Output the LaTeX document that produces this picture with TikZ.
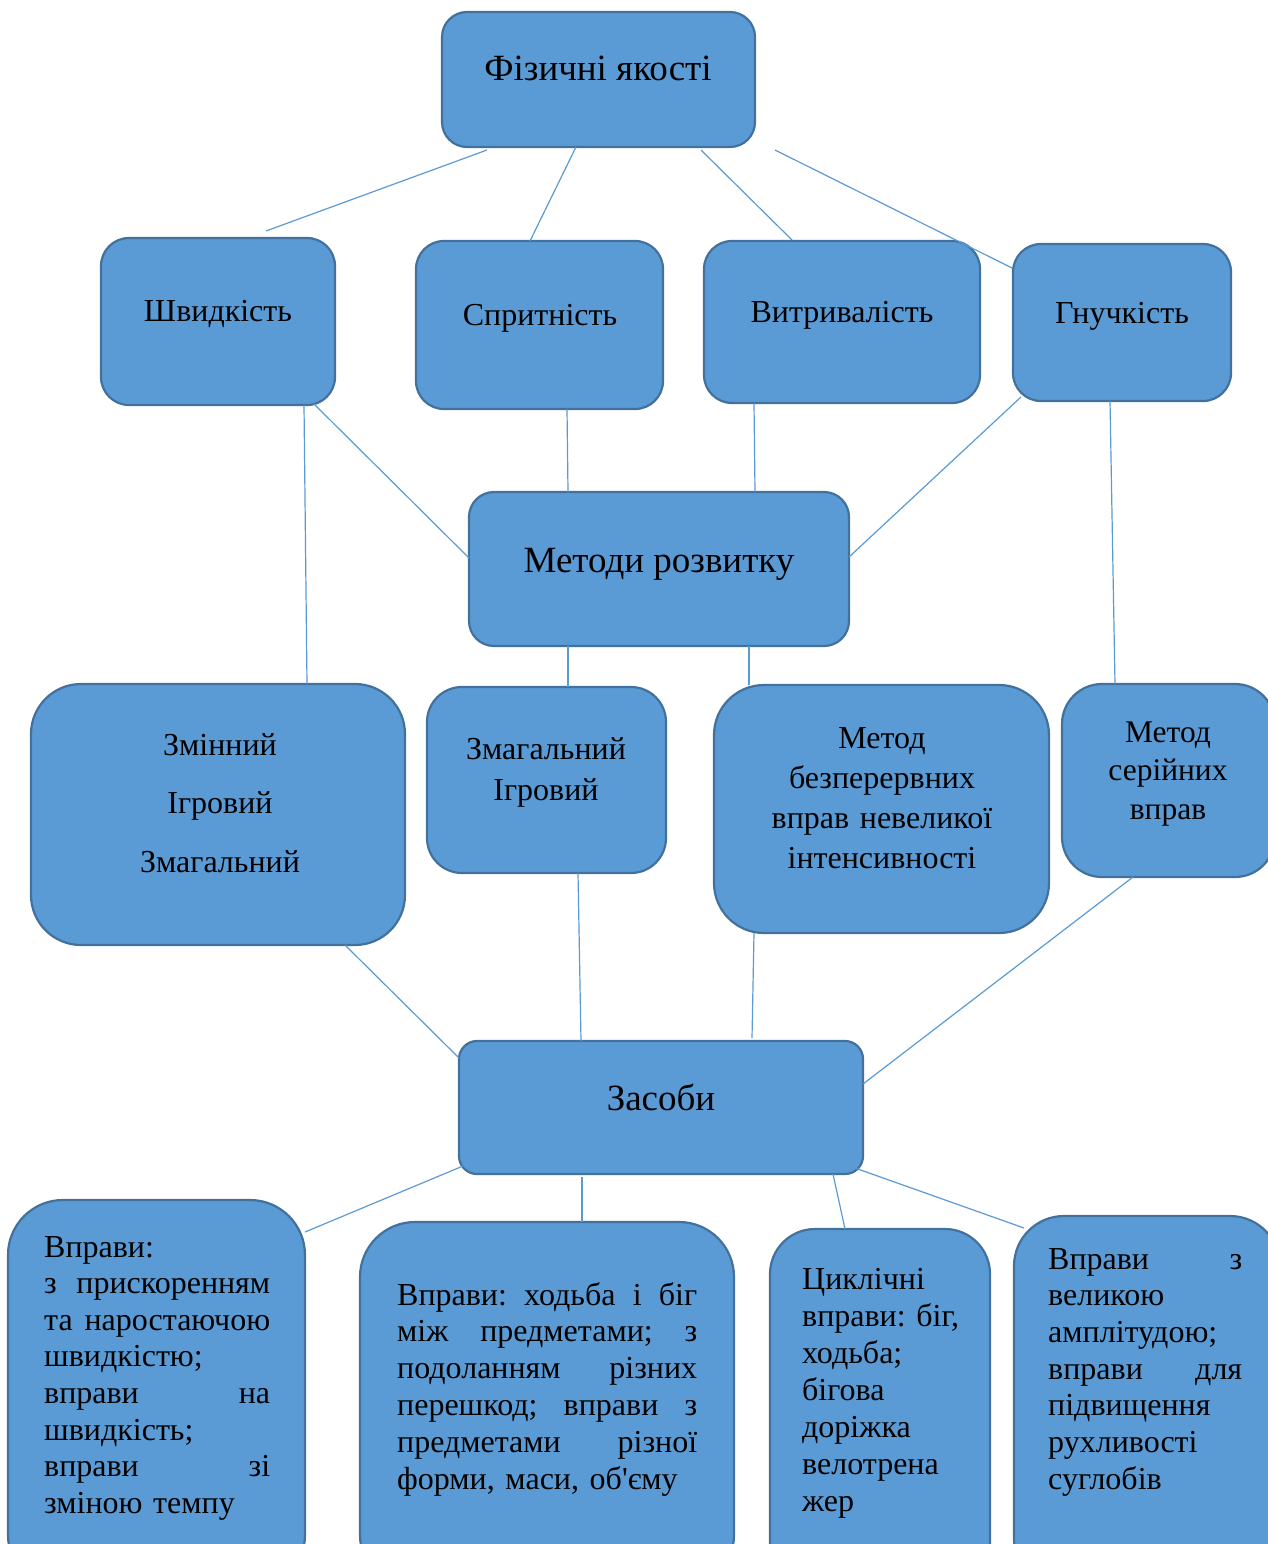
\documentclass[tikz,border=0pt]{standalone}
\usepackage{fontspec}
\newfontfamily\uaf{Liberation Serif}
\usetikzlibrary{calc}
\definecolor{boxfill}{HTML}{5B9BD5}
\definecolor{boxline}{HTML}{41719C}
\definecolor{connc}{HTML}{5B9BD5}
\newcommand{\jline}[2]{\leavevmode\hbox to #1{\spaceskip=.25em plus 1fil\relax\xspaceskip=.25em plus 1fil\relax #2}}
\frenchspacing
\begin{document}
\begin{tikzpicture}[x=1pt,y=-1pt,
  box/.style={draw=boxline, fill=boxfill, line width=2.2pt, inner sep=0pt, outer sep=0pt},
  conn/.style={draw=connc, line width=1.2pt},
  lbl/.style={inner sep=0pt, anchor=base, text=black},
  big/.style={font=\uaf\fontsize{37}{44}\selectfont},
  mid/.style={font=\uaf\fontsize{32}{38}\selectfont},
  para/.style={anchor=base west, align=left}]
\useasboundingbox (0,0) rectangle (1268,1544);
\clip (0,0) rectangle (1268,1544);
\fill[white] (0,0) rectangle (1268,1544);

% boxes
\node[box, minimum width=313pt, minimum height=135pt, rounded corners=25pt] (fiz) at (598.5,79.5) {};
\node[box, minimum width=234pt, minimum height=167pt, rounded corners=28pt] (shv) at (218,321.5) {};
\node[box, minimum width=247pt, minimum height=168pt, rounded corners=28pt] (spr) at (539.5,325) {};
\node[box, minimum width=276pt, minimum height=162pt, rounded corners=28pt] (vyt) at (842,322) {};
\node[box, minimum width=218pt, minimum height=157pt, rounded corners=28pt] (gnu) at (1122,322.5) {};
\node[box, minimum width=380pt, minimum height=154pt, rounded corners=25pt] (met) at (659,569) {};
\node[box, minimum width=374pt, minimum height=261pt, rounded corners=50pt] (zmi) at (218,814.5) {};
\node[box, minimum width=239pt, minimum height=186pt, rounded corners=35pt] (zig) at (546.5,780) {};
\node[box, minimum width=335pt, minimum height=248pt, rounded corners=50pt] (mbz) at (881.5,809) {};
\node[box, minimum width=213pt, minimum height=193pt, rounded corners=40pt] (mse) at (1168.5,780.5) {};
\node[box, minimum width=404pt, minimum height=133pt, rounded corners=18pt] (zas) at (661,1107.5) {};
\node[box, minimum width=297pt, minimum height=390pt, rounded corners=55pt] (b1) at (156.5,1395) {};
\node[box, minimum width=374pt, minimum height=368pt, rounded corners=55pt] (b2) at (547,1406) {};
\node[box, minimum width=220pt, minimum height=361pt, rounded corners=45pt] (b3) at (880,1409.5) {};
\node[box, minimum width=266pt, minimum height=374pt, rounded corners=50pt] (b4) at (1147,1403) {};

% connectors
\draw[conn] ($(fiz.south west)+(45,3)$) -- ($(shv.north west)+(165,-7)$);
\draw[conn] ($(fiz.south west)+(134,0)$) -- ($(spr.north west)+(114,0)$);
\draw[conn] ($(fiz.south west)+(259,3)$) -- ($(vyt.north west)+(88,-1)$);
\draw[conn] ($(fiz.south east)+(20,3)$) -- ($(gnu.north west)+(-1,24)$);
\draw[conn] ($(shv.south west)+(213,-1)$) -- ($(met.north west)+(0,66)$);
\draw[conn] ($(shv.south west)+(203,0)$) -- ($(zmi.north west)+(276,0)$);
\draw[conn] ($(spr.south west)+(151,0)$) -- ($(met.north west)+(99,0)$);
\draw[conn] ($(vyt.south west)+(50,0)$) -- ($(met.north west)+(286,0)$);
\draw[conn] ($(gnu.south west)+(8,-4)$) -- ($(met.north east)+(0,65)$);
\draw[conn] ($(gnu.south west)+(97,0)$) -- ($(mse.north west)+(53,0)$);
\draw[conn] ($(met.south west)+(99,0)$) -- ($(zig.north west)+(141,0)$);
\draw[conn] ($(met.south west)+(280,0)$) -- ($(mbz.north west)+(35,0)$);
\draw[conn] ($(zmi.south west)+(314,0)$) -- ($(zas.north west)+(0,17)$);
\draw[conn] ($(zig.south west)+(151,0)$) -- ($(zas.north west)+(122,0)$);
\draw[conn] ($(mbz.south west)+(40,0)$) -- ($(zas.north west)+(293,-3)$);
\draw[conn] ($(mse.south west)+(71,0)$) -- ($(zas.north east)+(0,43)$);
\draw[conn] ($(zas.south west)+(4,-8)$) -- ($(b1.north east)+(0,32)$);
\draw[conn] ($(zas.south west)+(123,3)$) -- ($(b2.north west)+(222,0)$);
\draw[conn] ($(zas.south west)+(374,0)$) -- ($(b3.north west)+(75,0)$);
\draw[conn] ($(zas.south east)+(-8,-6)$) -- ($(b4.north west)+(10,12)$);

% texts
\node[lbl, big] (tfiz) at (598,81) {Фізичні якості};
\node[lbl, mid] (tshv) at (218,321.5) {Швидкість};
\node[lbl, mid] (tspr) at (540,325.5) {Спритність};
\node[lbl, mid] (tvyt) at (842,322.5) {Витривалість};
\node[lbl, mid] (tgnu) at (1122,323.5) {Гнучкість};
\node[lbl, big] (tmet) at (659,572) {Методи розвитку};
\node[lbl, font=\uaf\fontsize{32}{58.5}\selectfont, text width=360pt, align=center] (tzmi) at (220,755) {Змінний\\Ігровий\\Змагальний};
\node[lbl, font=\uaf\fontsize{32}{41}\selectfont, text width=230pt, align=center] (tzig) at (546,759) {Змагальний\\Ігровий};
\node[lbl, font=\uaf\fontsize{32}{40}\selectfont, text width=330pt, align=center] (tmbz) at (882,748) {Метод\\безперервних\\вправ невеликої\\інтенсивності};
\node[lbl, font=\uaf\fontsize{31.5}{38.5}\selectfont, text width=200pt, align=center] (tmse) at (1168,742) {Метод\\серійних\\вправ};
\node[lbl, big] (tzas) at (661,1110) {Засоби};

\node[lbl, para, text width=226pt, font=\uaf\fontsize{32}{36.6}\selectfont] (tb1) at (44,1257)
 {Вправи:\\\jline{226pt}{з прискоренням}\\\jline{226pt}{та наростаючою}\\швидкістю;\\\jline{226pt}{вправи на}\\швидкість;\\\jline{226pt}{вправи зі}\\зміною темпу};
\node[lbl, para, text width=300pt, font=\uaf\fontsize{32}{36.8}\selectfont] (tb2) at (397,1305)
 {\jline{300pt}{Вправи: ходьба і біг}\\\jline{300pt}{між предметами; з}\\\jline{300pt}{подоланням різних}\\\jline{300pt}{перешкод; вправи з}\\\jline{300pt}{предметами різної}\\форми, маси, об'єму};
\node[lbl, para, text width=170pt, font=\uaf\fontsize{32}{37}\selectfont] (tb3) at (802,1289)
 {Циклічні\\вправи: біг,\\ходьба;\\бігова\\доріжка\\велотрена\\жер};
\node[lbl, para, text width=194pt, font=\uaf\fontsize{32}{36.7}\selectfont] (tb4) at (1048,1269)
 {\jline{194pt}{Вправи з}\\великою\\амплітудою;\\\jline{194pt}{вправи для}\\підвищення\\рухливості\\суглобів};
\end{tikzpicture}
\end{document}
